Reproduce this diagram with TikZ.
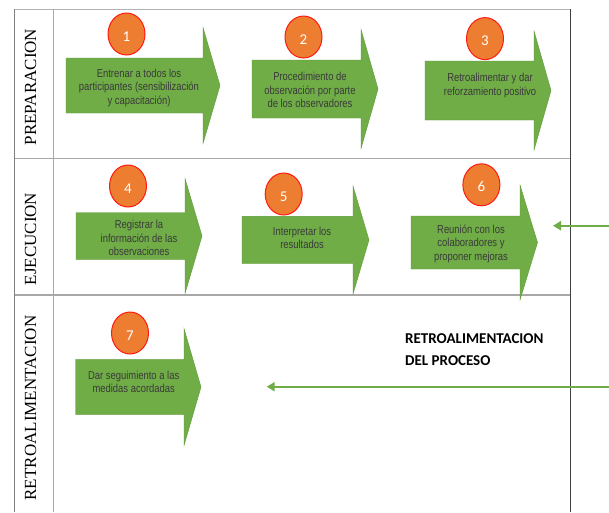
\documentclass[tikz,border=0pt]{standalone}
\usepackage{fontspec}
\setmainfont{Liberation Serif}
\newfontfamily\narrowfont[FakeStretch=0.82]{Liberation Sans}
\newfontfamily\calfont{Carlito}
\usetikzlibrary{arrows.meta,shapes.geometric}
\definecolor{fgreen}{HTML}{70AD47}
\definecolor{fgreenedge}{HTML}{5E9A3A}
\definecolor{forange}{HTML}{ED7D31}
\definecolor{fred}{HTML}{FF1A10}
\definecolor{ftext}{HTML}{3A3A3A}
\definecolor{gridgray}{HTML}{A8A8A8}
\definecolor{borderdark}{HTML}{404040}
% name, xl, yc, bodyhalf, xhead, headhalf, xtip
\newcommand\flecha[7]{%
  \coordinate (#1) at (#2,#3);
  \fill[fgreen, draw=fgreenedge, line width=0.4pt]
    (#2,#3-#4) -- (#5,#3-#4) -- (#5,#3-#6) -- (#7,#3) -- (#5,#3+#6)
    -- (#5,#3+#4) -- (#2,#3+#4) -- cycle;
}
\begin{document}
\begin{tikzpicture}[x=1pt,y=-1pt,
  lbl/.style={font=\narrowfont\fontsize{11.5}{13.5}\selectfont, text=ftext, align=center, inner sep=0pt},
  num/.style={ellipse, draw=fred, line width=1pt, fill=forange, minimum width=37pt,
    minimum height=42pt, inner sep=0pt, text=white, text height=14pt, text depth=0pt,
    font=\calfont\fontsize{15}{15}\selectfont},
  lane/.style={rotate=90, font=\fontsize{17}{17}\selectfont, inner sep=0pt, text=black},
  gridline/.style={draw=gridgray, line width=1.1pt},
  feed/.style={draw=fgreen, line width=2pt, -{Triangle[length=8pt,width=9pt]}},
  fbtxt/.style={anchor=base west, inner sep=0pt, font=\calfont\bfseries\fontsize{15}{15}\selectfont}]
\useasboundingbox (0,0) rectangle (609,512);
\fill[white] (0,0) rectangle (609,512);

% table
\coordinate (tl) at (14.3,9.3);
\coordinate (tr) at (570.7,9.3);
\coordinate (bl) at (14.3,512);
\coordinate (br) at (570.7,512);
\coordinate (il) at (53.3,9.3);
\coordinate (ib) at (53.3,512);
\coordinate (r1l) at (14.3,158.3);
\coordinate (r1r) at (570.7,158.3);
\coordinate (r2l) at (14.3,295);
\coordinate (r2r) at (570.7,295);
\draw[draw=gray!60, line width=1.1pt] (tl) -- (tr);
\draw[gridline] (r1l) -- (r1r);
\draw[gridline] (r2l) -- (r2r);
\draw[draw=gray, line width=1pt] (tl) -- (bl);
\draw[gridline, line width=1pt] (il) -- (ib);
\draw[draw=borderdark, line width=1pt] (tr) -- (br);

% lane labels
\node[lane] (lane1) at (30.5,87) {PREPARACION};
\node[lane] (lane2) at (30.5,239) {EJECUCION};
\node[lane] (lane3) at (30.5,408) {RETROALIMENTACION};

% arrows
\flecha{a1}{66}{85.5}{27.5}{203}{58}{220}
\flecha{a2}{252}{89}{29}{361}{59.5}{378}
\flecha{a3}{425}{90.5}{29.5}{534}{59.5}{551}
\flecha{a4}{76}{236}{23.5}{185}{57.5}{202}
\flecha{a5}{242}{240}{23.7}{353}{54}{369}
\flecha{a6}{411}{242.5}{26.5}{520}{57.5}{537.5}
\flecha{a7}{75.5}{387}{27.4}{184}{58.5}{201}

% arrow texts
\node[lbl] (t1) at (139,88) {Entrenar a todos los\\participantes (sensibilización\\y capacitación)};
\node[lbl] (t2) at (310,90) {Procedimiento de\\observación por parte\\de los observadores};
\node[lbl] (t3) at (490,85.5) {Retroalimentar y dar\\reforzamiento positivo};
\node[lbl] (t4) at (139,238) {Registrar la\\información de las\\observaciones};
\node[lbl] (t5) at (302,238) {Interpretar los\\resultados};
\node[lbl] (t6) at (471,243.7) {Reunión con los\\colaboradores y\\proponer mejoras};
\node[lbl] (t7) at (133.7,381.8) {Dar seguimiento a las\\medidas acordadas};

% numbers
\node[num] (c1) at (126.5,34) {1};
\node[num] (c2) at (303.5,37) {2};
\node[num] (c3) at (485,38.6) {3};
\node[num] (c4) at (128,186) {4};
\node[num] (c5) at (283.7,194) {5};
\node[num] (c6) at (481.4,184.8) {6};
\node[num] (c7) at (130,333) {7};

% feedback
\coordinate (fa0) at (609,225.7);
\coordinate (fa1) at (553,225.7);
\coordinate (fb0) at (609,386.7);
\coordinate (fb1) at (266.7,386.7);
\draw[feed] (fa0) -- (fa1);
\draw[feed] (fb0) -- (fb1);

\node[fbtxt] (fbt1) at (405,343) {RETROALIMENTACION};
\node[fbtxt] (fbt2) at (405,365) {DEL PROCESO};
\end{tikzpicture}
\end{document}
